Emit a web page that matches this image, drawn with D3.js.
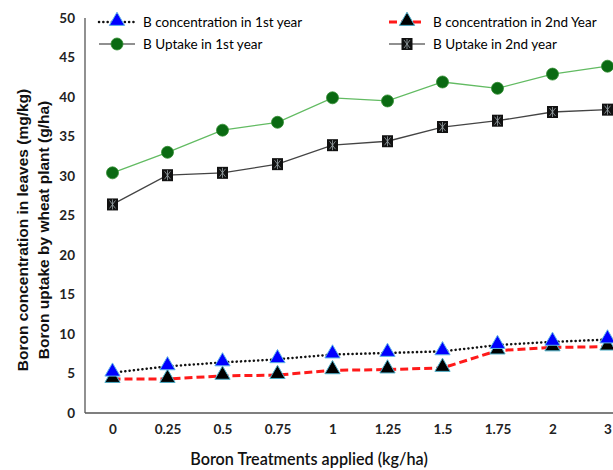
<!DOCTYPE html>
<html>
<head>
<meta charset="utf-8">
<script src="https://cdn.jsdelivr.net/npm/d3@7"></script>
<style>
  body { margin: 0; background: #fff; }
  svg { display: block; }
  .tick text { font-family: Lato, 'Open Sans', sans-serif; font-weight: 700; font-size: 13.5px; fill: #222; }
  .legend text { font-family: Lato, 'Open Sans', sans-serif; font-size: 13.5px; fill: #000; }
</style>
</head>
<body>
<svg id="chart" width="613" height="470"></svg>
<script>
// treatment levels (kg/ha)
let treatments = ['0', '0.25', '0.5', '0.75', '1', '1.25', '1.5', '1.75', '2', '3'];

let concYear1 = [5.1, 5.9, 6.4, 6.8, 7.4, 7.6, 7.8, 8.6, 9.0, 9.3];
let concYear2 = [4.3, 4.3, 4.7, 4.8, 5.4, 5.5, 5.7, 7.9, 8.3, 8.4];
let uptakeYear1 = [30.4, 33.0, 35.8, 36.8, 39.9, 39.5, 41.9, 41.1, 42.9, 43.9];
let uptakeYear2 = [26.4, 30.1, 30.4, 31.5, 33.9, 34.4, 36.2, 37.0, 38.1, 38.4];

let yTicks = [0, 5, 10, 15, 20, 25, 30, 35, 40, 45, 50];

let svg = d3.select('#chart');

let plotLeft = 85, plotRight = 635, plotTop = 18, plotBottom = 413;

let x = d3.scalePoint()
          .domain(treatments)
          .range([plotLeft, plotRight])
          .padding(0.5);

let y = d3.scaleLinear()
          .domain([0, 50])
          .range([plotBottom, plotTop]);

// axes
svg.append('g')
   .attr('transform', `translate(0,${plotBottom})`)
   .call(d3.axisBottom(x).tickSize(0).tickPadding(11))
   .call(g => g.select('.domain').attr('stroke', '#555').attr('stroke-width', 1.3).attr('d', `M${plotLeft},0H${plotRight}`));

svg.append('g')
   .attr('transform', `translate(${plotLeft},0)`)
   .call(d3.axisLeft(y).tickValues(yTicks).tickSize(0).tickPadding(10))
   .call(g => g.select('.domain').attr('stroke', '#555').attr('stroke-width', 1.3).attr('d', `M0,${plotTop}V${plotBottom}`));

// axis titles
svg.append('text')
   .attr('x', 309)
   .attr('y', 465)
   .attr('text-anchor', 'middle')
   .style('font-family', "Lato, 'Open Sans', sans-serif")
   .style('font-size', '16.2px')
   .style('font-weight', 600)
   .attr('fill', '#111')
   .text('Boron Treatments applied (kg/ha)');

let yTitle = svg.append('text')
   .attr('transform', 'translate(0,230) rotate(-90)')
   .attr('text-anchor', 'middle')
   .style('font-family', "'Liberation Sans', Arial, sans-serif")
   .style('font-size', '15.5px')
   .style('font-weight', 700)
   .attr('fill', '#111');
yTitle.append('tspan').attr('x', 0).attr('y', 28).text('Boron concentration in leaves (mg/kg)');
yTitle.append('tspan').attr('x', 0).attr('y', 49).text('Boron uptake by wheat plant (g/ha)');

let line = d3.line()
             .x((d, i) => x(treatments[i]))
             .y(d => y(d));

let plot = svg.append('g');

// marker helpers
function triangle(g, cx, cy, fill, stroke) {
    g.append('path')
     .attr('d', d3.symbol().type(d3.symbolTriangle).size(100)())
     .attr('transform', `translate(${cx},${cy - 1})`)
     .attr('fill', fill)
     .attr('stroke', stroke)
     .attr('stroke-width', 1);
}

function circle(g, cx, cy) {
    g.append('circle')
     .attr('cx', cx)
     .attr('cy', cy)
     .attr('r', 6)
     .attr('fill', '#0a6a12')
     .attr('stroke', '#2e8b2e')
     .attr('stroke-width', 0.8);
}

function square(g, cx, cy) {
    g.append('rect')
     .attr('x', cx - 5.5)
     .attr('y', cy - 6)
     .attr('width', 11)
     .attr('height', 12)
     .attr('fill', '#111');
    g.append('path')
     .attr('d', `M${cx - 3},${cy - 4}L${cx + 3},${cy + 4}M${cx + 3},${cy - 4}L${cx - 3},${cy + 4}M${cx},${cy - 5}V${cy + 5}`)
     .attr('stroke', '#9aa5a8')
     .attr('stroke-width', 0.8);
}

// uptake lines
plot.append('path')
    .datum(uptakeYear1)
    .attr('d', line)
    .attr('fill', 'none')
    .attr('stroke', '#62bb62')
    .attr('stroke-width', 1.3);

plot.append('path')
    .datum(uptakeYear2)
    .attr('d', line)
    .attr('fill', 'none')
    .attr('stroke', '#444')
    .attr('stroke-width', 1.3);

// concentration lines
plot.append('path')
    .datum(concYear2)
    .attr('d', line)
    .attr('fill', 'none')
    .attr('stroke', '#ff1a1a')
    .attr('stroke-width', 3)
    .attr('stroke-dasharray', '8,4');

plot.append('path')
    .datum(concYear1)
    .attr('d', line)
    .attr('fill', 'none')
    .attr('stroke', '#111')
    .attr('stroke-width', 2.5)
    .attr('stroke-linecap', 'round')
    .attr('stroke-dasharray', '0.1,4.2');

uptakeYear1.forEach((d, i) => circle(plot, x(treatments[i]), y(d)));
uptakeYear2.forEach((d, i) => square(plot, x(treatments[i]), y(d)));
concYear2.forEach((d, i) => triangle(plot, x(treatments[i]), y(d), '#000', '#4bacc6'));
concYear1.forEach((d, i) => triangle(plot, x(treatments[i]), y(d), '#0000ff', '#5fb4e8'));

// legend
let legend = svg.append('g').attr('class', 'legend');

function legendRow(lx, ly, style, marker, label) {
    let l = legend.append('line')
                  .attr('x1', lx).attr('x2', lx + 36)
                  .attr('y1', ly).attr('y2', ly)
                  .attr('fill', 'none');
    style(l);
    marker(legend, lx + 18, ly);
    legend.append('text')
          .attr('x', lx + 44)
          .attr('y', ly + 5)
          .text(label);
}

legendRow(99, 22,
    l => l.attr('stroke', '#111').attr('stroke-width', 2.5).attr('stroke-linecap', 'round').attr('stroke-dasharray', '0.1,4.2'),
    (g, cx, cy) => triangle(g, cx, cy, '#0000ff', '#5fb4e8'),
    'B concentration in 1st year');

legendRow(99, 44,
    l => l.attr('stroke', '#222').attr('stroke-width', 1.2),
    (g, cx, cy) => circle(g, cx, cy),
    'B Uptake in 1st year');

legendRow(389, 22,
    l => l.attr('stroke', '#ff1a1a').attr('stroke-width', 3).attr('stroke-dasharray', '8,4'),
    (g, cx, cy) => triangle(g, cx, cy, '#000', '#4bacc6'),
    'B concentration in 2nd Year');

legendRow(389, 44,
    l => l.attr('stroke', '#222').attr('stroke-width', 1.2),
    (g, cx, cy) => square(g, cx, cy),
    'B Uptake in 2nd year');
</script>
</body>
</html>
